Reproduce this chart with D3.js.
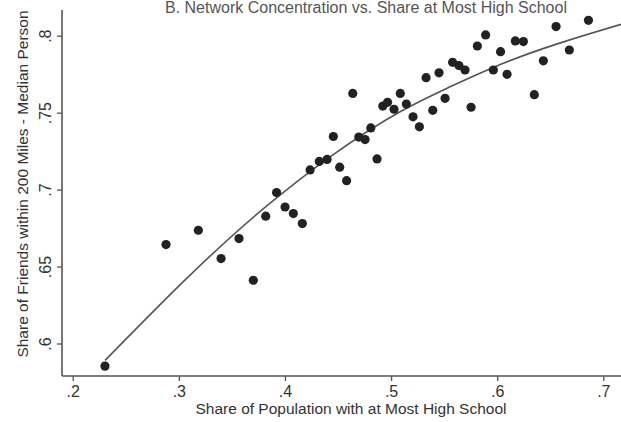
<!DOCTYPE html>
<html><head><meta charset="utf-8">
<script src="https://cdn.jsdelivr.net/npm/d3@7"></script>
<style>
html,body{margin:0;padding:0;background:#fff;overflow:hidden;}
svg{display:block;font-family:"Liberation Sans",Arial,sans-serif;}
</style></head>
<body>
<svg id="chart" width="621" height="422"></svg>
<script>
// Scatter data (share at most high school, share of friends within 200 miles)
const shareHS = [0.2304,0.2879,0.3184,0.3398,0.3567,0.3702,0.3819,0.3921,0.4001,0.4079,
  0.4164,0.4237,0.4324,0.4397,0.4456,0.4516,0.4581,0.4639,0.4696,0.4755,
  0.4809,0.4868,0.4922,0.4967,0.5028,0.5087,0.5144,0.5207,0.5267,0.5330,
  0.5393,0.5452,0.5509,0.5580,0.5639,0.5697,0.5754,0.5813,0.5891,0.5964,
  0.6032,0.6093,0.6171,0.6247,0.6350,0.6435,0.6555,0.6680,0.6860];
const shareFriends = [0.5853,0.6643,0.6736,0.6552,0.6682,0.6411,0.6827,0.6981,0.6887,0.6844,
  0.6779,0.7128,0.7183,0.7196,0.7345,0.7146,0.7058,0.7625,0.7341,0.7325,
  0.7401,0.7199,0.7543,0.7567,0.7522,0.7625,0.7556,0.7473,0.7408,0.7727,
  0.7515,0.7759,0.7593,0.7827,0.7806,0.7777,0.7535,0.7933,0.8005,0.7777,
  0.7896,0.7749,0.7966,0.7962,0.7617,0.7837,0.8059,0.7907,0.8100];
// Quadratic fit line
const fitX = [0.2305,0.3780,0.4425,0.5085,0.5556,0.5964,0.7168];
const fitY = [0.5890,0.6866,0.7213,0.7506,0.7668,0.7794,0.8074];
// Ticks
const xTicks = [0.2,0.3,0.4,0.5,0.6,0.7];
const xTickLabels = [".2",".3",".4",".5",".6",".7"];
const yTicks = [0.6,0.65,0.7,0.75,0.8];
const yTickLabels = [".6",".65",".7",".75",".8"];
const title = "B. Network Concentration vs. Share at Most High School";
const xTitle = "Share of Population with at Most High School";
const yTitle = "Share of Friends within 200 Miles - Median Person";

const svg = d3.select("#chart");
const x = d3.scaleLinear().domain([0.2,0.7]).range([72.7,603.3]);
const y = d3.scaleLinear().domain([0.6,0.8]).range([343.5,35.7]);
const axisY0 = 376, axisX0 = 62;
const ink = "#333", lineCol = "#555";

// title
svg.append("text").attr("x",165).attr("y",13).attr("font-size",16)
  .attr("fill","#555").text(title);

// x axis
const xa = svg.append("g").attr("transform",`translate(0,${axisY0})`)
  .call(d3.axisBottom(x).tickValues(xTicks).tickFormat((d,i)=>xTickLabels[i]).tickSize(5).tickPadding(5));
xa.select(".domain").remove();
xa.append("line").attr("x1",axisX0).attr("x2",621).attr("y1",0).attr("y2",0)
  .attr("stroke",lineCol).attr("stroke-width",1.6);
xa.selectAll(".tick line").attr("stroke",lineCol).attr("stroke-width",1.3);
xa.selectAll(".tick text").attr("fill",ink).attr("font-size",16)
  .attr("font-family","Liberation Sans, Arial, sans-serif");

// y axis
const ya = svg.append("g").attr("transform",`translate(${axisX0},0)`)
  .call(d3.axisLeft(y).tickValues(yTicks).tickFormat((d,i)=>yTickLabels[i]).tickSize(5).tickPadding(5));
ya.select(".domain").remove();
ya.append("line").attr("x1",0).attr("x2",0).attr("y1",10).attr("y2",axisY0)
  .attr("stroke",lineCol).attr("stroke-width",1.6);
ya.selectAll(".tick line").attr("stroke",lineCol).attr("stroke-width",1.3);
ya.selectAll(".tick text").attr("fill",ink).attr("font-size",16)
  .attr("font-family","Liberation Sans, Arial, sans-serif")
  .attr("text-anchor","middle").attr("dy",0)
  .attr("transform","translate(-11,0) rotate(-90)").attr("x",0).attr("y",0);

// axis titles
svg.append("text").attr("x",351).attr("y",414).attr("text-anchor","middle")
  .attr("font-size",15.5).attr("fill",ink).text(xTitle);
svg.append("text").attr("transform","translate(28,184) rotate(-90)")
  .attr("text-anchor","middle").attr("font-size",15.5).attr("fill",ink).text(yTitle);

// fit line
const pts = fitX.map((v,i)=>[v,fitY[i]]);
svg.append("path").datum(pts)
  .attr("d",d3.line().x(d=>x(d[0])).y(d=>y(d[1])).curve(d3.curveMonotoneX))
  .attr("fill","none").attr("stroke","#555").attr("stroke-width",1.6);

// points
svg.append("g").selectAll("circle").data(shareHS).join("circle")
  .attr("cx",d=>x(d)).attr("cy",(d,i)=>y(shareFriends[i])).attr("r",4.6)
  .attr("fill","#222");
</script>
</body></html>
